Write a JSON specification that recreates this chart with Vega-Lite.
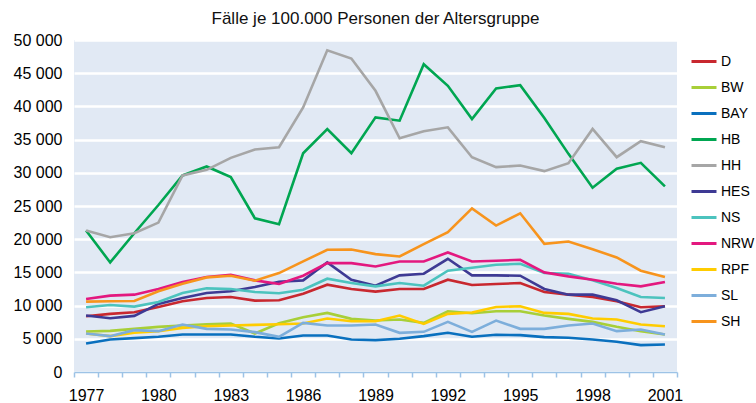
{
"$schema": "https://vega.github.io/schema/vega-lite/v6.json",
"width": 603, "height": 332,
"autosize": {"type": "none"},
"padding": {"left": 74, "top": 40, "right": 79, "bottom": 31},
"background": "white",
"title": {"text": "Fälle je 100.000 Personen der Altersgruppe", "fontSize": 17, "fontWeight": "normal", "font": "Liberation Sans", "color": "#111", "anchor": "middle", "offset": 4},
"config": {"view": {"fill": "#E1E9F4", "stroke": null}, "font": "Liberation Sans"},
"data": {"values": [
{"Jahr":1977,"Land":"D","Wert":8400},{"Jahr":1978,"Land":"D","Wert":8750},{"Jahr":1979,"Land":"D","Wert":9000},{"Jahr":1980,"Land":"D","Wert":9800},{"Jahr":1981,"Land":"D","Wert":10650},{"Jahr":1982,"Land":"D","Wert":11150},{"Jahr":1983,"Land":"D","Wert":11300},{"Jahr":1984,"Land":"D","Wert":10750},{"Jahr":1985,"Land":"D","Wert":10800},{"Jahr":1986,"Land":"D","Wert":11800},{"Jahr":1987,"Land":"D","Wert":13150},{"Jahr":1988,"Land":"D","Wert":12500},{"Jahr":1989,"Land":"D","Wert":12100},{"Jahr":1990,"Land":"D","Wert":12500},{"Jahr":1991,"Land":"D","Wert":12500},{"Jahr":1992,"Land":"D","Wert":13900},{"Jahr":1993,"Land":"D","Wert":13100},{"Jahr":1994,"Land":"D","Wert":13250},{"Jahr":1995,"Land":"D","Wert":13400},{"Jahr":1996,"Land":"D","Wert":12050},{"Jahr":1997,"Land":"D","Wert":11650},{"Jahr":1998,"Land":"D","Wert":11300},{"Jahr":1999,"Land":"D","Wert":10650},{"Jahr":2000,"Land":"D","Wert":9750},{"Jahr":2001,"Land":"D","Wert":9900},
{"Jahr":1977,"Land":"BW","Wert":6100},{"Jahr":1978,"Land":"BW","Wert":6200},{"Jahr":1979,"Land":"BW","Wert":6500},{"Jahr":1980,"Land":"BW","Wert":6800},{"Jahr":1981,"Land":"BW","Wert":7000},{"Jahr":1982,"Land":"BW","Wert":7200},{"Jahr":1983,"Land":"BW","Wert":7300},{"Jahr":1984,"Land":"BW","Wert":5800},{"Jahr":1985,"Land":"BW","Wert":7350},{"Jahr":1986,"Land":"BW","Wert":8250},{"Jahr":1987,"Land":"BW","Wert":8900},{"Jahr":1988,"Land":"BW","Wert":8000},{"Jahr":1989,"Land":"BW","Wert":7750},{"Jahr":1990,"Land":"BW","Wert":7900},{"Jahr":1991,"Land":"BW","Wert":7400},{"Jahr":1992,"Land":"BW","Wert":9150},{"Jahr":1993,"Land":"BW","Wert":8850},{"Jahr":1994,"Land":"BW","Wert":9150},{"Jahr":1995,"Land":"BW","Wert":9150},{"Jahr":1996,"Land":"BW","Wert":8500},{"Jahr":1997,"Land":"BW","Wert":8000},{"Jahr":1998,"Land":"BW","Wert":7550},{"Jahr":1999,"Land":"BW","Wert":6800},{"Jahr":2000,"Land":"BW","Wert":6150},{"Jahr":2001,"Land":"BW","Wert":5650},
{"Jahr":1977,"Land":"BAY","Wert":4300},{"Jahr":1978,"Land":"BAY","Wert":4900},{"Jahr":1979,"Land":"BAY","Wert":5100},{"Jahr":1980,"Land":"BAY","Wert":5300},{"Jahr":1981,"Land":"BAY","Wert":5650},{"Jahr":1982,"Land":"BAY","Wert":5650},{"Jahr":1983,"Land":"BAY","Wert":5650},{"Jahr":1984,"Land":"BAY","Wert":5300},{"Jahr":1985,"Land":"BAY","Wert":5050},{"Jahr":1986,"Land":"BAY","Wert":5500},{"Jahr":1987,"Land":"BAY","Wert":5500},{"Jahr":1988,"Land":"BAY","Wert":4900},{"Jahr":1989,"Land":"BAY","Wert":4800},{"Jahr":1990,"Land":"BAY","Wert":5000},{"Jahr":1991,"Land":"BAY","Wert":5400},{"Jahr":1992,"Land":"BAY","Wert":5900},{"Jahr":1993,"Land":"BAY","Wert":5300},{"Jahr":1994,"Land":"BAY","Wert":5600},{"Jahr":1995,"Land":"BAY","Wert":5550},{"Jahr":1996,"Land":"BAY","Wert":5250},{"Jahr":1997,"Land":"BAY","Wert":5150},{"Jahr":1998,"Land":"BAY","Wert":4900},{"Jahr":1999,"Land":"BAY","Wert":4550},{"Jahr":2000,"Land":"BAY","Wert":4050},{"Jahr":2001,"Land":"BAY","Wert":4150},
{"Jahr":1977,"Land":"HB","Wert":21300},{"Jahr":1978,"Land":"HB","Wert":16500},{"Jahr":1979,"Land":"HB","Wert":20900},{"Jahr":1980,"Land":"HB","Wert":25150},{"Jahr":1981,"Land":"HB","Wert":29600},{"Jahr":1982,"Land":"HB","Wert":30950},{"Jahr":1983,"Land":"HB","Wert":29350},{"Jahr":1984,"Land":"HB","Wert":23150},{"Jahr":1985,"Land":"HB","Wert":22250},{"Jahr":1986,"Land":"HB","Wert":32950},{"Jahr":1987,"Land":"HB","Wert":36600},{"Jahr":1988,"Land":"HB","Wert":32950},{"Jahr":1989,"Land":"HB","Wert":38350},{"Jahr":1990,"Land":"HB","Wert":37850},{"Jahr":1991,"Land":"HB","Wert":46350},{"Jahr":1992,"Land":"HB","Wert":43100},{"Jahr":1993,"Land":"HB","Wert":38100},{"Jahr":1994,"Land":"HB","Wert":42700},{"Jahr":1995,"Land":"HB","Wert":43200},{"Jahr":1996,"Land":"HB","Wert":38250},{"Jahr":1997,"Land":"HB","Wert":32850},{"Jahr":1998,"Land":"HB","Wert":27750},{"Jahr":1999,"Land":"HB","Wert":30600},{"Jahr":2000,"Land":"HB","Wert":31500},{"Jahr":2001,"Land":"HB","Wert":27950},
{"Jahr":1977,"Land":"HH","Wert":21300},{"Jahr":1978,"Land":"HH","Wert":20300},{"Jahr":1979,"Land":"HH","Wert":20900},{"Jahr":1980,"Land":"HH","Wert":22500},{"Jahr":1981,"Land":"HH","Wert":29600},{"Jahr":1982,"Land":"HH","Wert":30450},{"Jahr":1983,"Land":"HH","Wert":32250},{"Jahr":1984,"Land":"HH","Wert":33500},{"Jahr":1985,"Land":"HH","Wert":33850},{"Jahr":1986,"Land":"HH","Wert":39850},{"Jahr":1987,"Land":"HH","Wert":48450},{"Jahr":1988,"Land":"HH","Wert":47200},{"Jahr":1989,"Land":"HH","Wert":42350},{"Jahr":1990,"Land":"HH","Wert":35200},{"Jahr":1991,"Land":"HH","Wert":36250},{"Jahr":1992,"Land":"HH","Wert":36850},{"Jahr":1993,"Land":"HH","Wert":32350},{"Jahr":1994,"Land":"HH","Wert":30850},{"Jahr":1995,"Land":"HH","Wert":31100},{"Jahr":1996,"Land":"HH","Wert":30250},{"Jahr":1997,"Land":"HH","Wert":31450},{"Jahr":1998,"Land":"HH","Wert":36600},{"Jahr":1999,"Land":"HH","Wert":32350},{"Jahr":2000,"Land":"HH","Wert":34750},{"Jahr":2001,"Land":"HH","Wert":33850},
{"Jahr":1977,"Land":"HES","Wert":8500},{"Jahr":1978,"Land":"HES","Wert":8100},{"Jahr":1979,"Land":"HES","Wert":8450},{"Jahr":1980,"Land":"HES","Wert":10250},{"Jahr":1981,"Land":"HES","Wert":11150},{"Jahr":1982,"Land":"HES","Wert":11900},{"Jahr":1983,"Land":"HES","Wert":12150},{"Jahr":1984,"Land":"HES","Wert":12800},{"Jahr":1985,"Land":"HES","Wert":13600},{"Jahr":1986,"Land":"HES","Wert":13800},{"Jahr":1987,"Land":"HES","Wert":16500},{"Jahr":1988,"Land":"HES","Wert":13900},{"Jahr":1989,"Land":"HES","Wert":13000},{"Jahr":1990,"Land":"HES","Wert":14550},{"Jahr":1991,"Land":"HES","Wert":14800},{"Jahr":1992,"Land":"HES","Wert":17050},{"Jahr":1993,"Land":"HES","Wert":14550},{"Jahr":1994,"Land":"HES","Wert":14550},{"Jahr":1995,"Land":"HES","Wert":14500},{"Jahr":1996,"Land":"HES","Wert":12500},{"Jahr":1997,"Land":"HES","Wert":11650},{"Jahr":1998,"Land":"HES","Wert":11650},{"Jahr":1999,"Land":"HES","Wert":10800},{"Jahr":2000,"Land":"HES","Wert":9000},{"Jahr":2001,"Land":"HES","Wert":9900},
{"Jahr":1977,"Land":"NS","Wert":9750},{"Jahr":1978,"Land":"NS","Wert":10100},{"Jahr":1979,"Land":"NS","Wert":9850},{"Jahr":1980,"Land":"NS","Wert":10550},{"Jahr":1981,"Land":"NS","Wert":11900},{"Jahr":1982,"Land":"NS","Wert":12600},{"Jahr":1983,"Land":"NS","Wert":12500},{"Jahr":1984,"Land":"NS","Wert":12050},{"Jahr":1985,"Land":"NS","Wert":11850},{"Jahr":1986,"Land":"NS","Wert":12400},{"Jahr":1987,"Land":"NS","Wert":14050},{"Jahr":1988,"Land":"NS","Wert":13400},{"Jahr":1989,"Land":"NS","Wert":12900},{"Jahr":1990,"Land":"NS","Wert":13400},{"Jahr":1991,"Land":"NS","Wert":13000},{"Jahr":1992,"Land":"NS","Wert":15250},{"Jahr":1993,"Land":"NS","Wert":15700},{"Jahr":1994,"Land":"NS","Wert":16150},{"Jahr":1995,"Land":"NS","Wert":16300},{"Jahr":1996,"Land":"NS","Wert":14900},{"Jahr":1997,"Land":"NS","Wert":14800},{"Jahr":1998,"Land":"NS","Wert":13800},{"Jahr":1999,"Land":"NS","Wert":12650},{"Jahr":2000,"Land":"NS","Wert":11300},{"Jahr":2001,"Land":"NS","Wert":11150},
{"Jahr":1977,"Land":"NRW","Wert":11000},{"Jahr":1978,"Land":"NRW","Wert":11500},{"Jahr":1979,"Land":"NRW","Wert":11650},{"Jahr":1980,"Land":"NRW","Wert":12500},{"Jahr":1981,"Land":"NRW","Wert":13550},{"Jahr":1982,"Land":"NRW","Wert":14300},{"Jahr":1983,"Land":"NRW","Wert":14650},{"Jahr":1984,"Land":"NRW","Wert":13800},{"Jahr":1985,"Land":"NRW","Wert":13250},{"Jahr":1986,"Land":"NRW","Wert":14500},{"Jahr":1987,"Land":"NRW","Wert":16400},{"Jahr":1988,"Land":"NRW","Wert":16400},{"Jahr":1989,"Land":"NRW","Wert":15900},{"Jahr":1990,"Land":"NRW","Wert":16650},{"Jahr":1991,"Land":"NRW","Wert":16650},{"Jahr":1992,"Land":"NRW","Wert":18000},{"Jahr":1993,"Land":"NRW","Wert":16650},{"Jahr":1994,"Land":"NRW","Wert":16750},{"Jahr":1995,"Land":"NRW","Wert":16900},{"Jahr":1996,"Land":"NRW","Wert":15000},{"Jahr":1997,"Land":"NRW","Wert":14400},{"Jahr":1998,"Land":"NRW","Wert":13900},{"Jahr":1999,"Land":"NRW","Wert":13300},{"Jahr":2000,"Land":"NRW","Wert":12900},{"Jahr":2001,"Land":"NRW","Wert":13550},
{"Jahr":1977,"Land":"RPF","Wert":5800},{"Jahr":1978,"Land":"RPF","Wert":5400},{"Jahr":1979,"Land":"RPF","Wert":5900},{"Jahr":1980,"Land":"RPF","Wert":6150},{"Jahr":1981,"Land":"RPF","Wert":6650},{"Jahr":1982,"Land":"RPF","Wert":6900},{"Jahr":1983,"Land":"RPF","Wert":7000},{"Jahr":1984,"Land":"RPF","Wert":7100},{"Jahr":1985,"Land":"RPF","Wert":7200},{"Jahr":1986,"Land":"RPF","Wert":7300},{"Jahr":1987,"Land":"RPF","Wert":8050},{"Jahr":1988,"Land":"RPF","Wert":7650},{"Jahr":1989,"Land":"RPF","Wert":7650},{"Jahr":1990,"Land":"RPF","Wert":8500},{"Jahr":1991,"Land":"RPF","Wert":7250},{"Jahr":1992,"Land":"RPF","Wert":8750},{"Jahr":1993,"Land":"RPF","Wert":8950},{"Jahr":1994,"Land":"RPF","Wert":9800},{"Jahr":1995,"Land":"RPF","Wert":9900},{"Jahr":1996,"Land":"RPF","Wert":8900},{"Jahr":1997,"Land":"RPF","Wert":8750},{"Jahr":1998,"Land":"RPF","Wert":8050},{"Jahr":1999,"Land":"RPF","Wert":7900},{"Jahr":2000,"Land":"RPF","Wert":7150},{"Jahr":2001,"Land":"RPF","Wert":6900},
{"Jahr":1977,"Land":"SL","Wert":5800},{"Jahr":1978,"Land":"SL","Wert":5400},{"Jahr":1979,"Land":"SL","Wert":6300},{"Jahr":1980,"Land":"SL","Wert":6150},{"Jahr":1981,"Land":"SL","Wert":7150},{"Jahr":1982,"Land":"SL","Wert":6500},{"Jahr":1983,"Land":"SL","Wert":6400},{"Jahr":1984,"Land":"SL","Wert":6000},{"Jahr":1985,"Land":"SL","Wert":5300},{"Jahr":1986,"Land":"SL","Wert":7400},{"Jahr":1987,"Land":"SL","Wert":7000},{"Jahr":1988,"Land":"SL","Wert":7000},{"Jahr":1989,"Land":"SL","Wert":7150},{"Jahr":1990,"Land":"SL","Wert":5900},{"Jahr":1991,"Land":"SL","Wert":6050},{"Jahr":1992,"Land":"SL","Wert":7550},{"Jahr":1993,"Land":"SL","Wert":6050},{"Jahr":1994,"Land":"SL","Wert":7750},{"Jahr":1995,"Land":"SL","Wert":6500},{"Jahr":1996,"Land":"SL","Wert":6500},{"Jahr":1997,"Land":"SL","Wert":7000},{"Jahr":1998,"Land":"SL","Wert":7300},{"Jahr":1999,"Land":"SL","Wert":6150},{"Jahr":2000,"Land":"SL","Wert":6400},{"Jahr":2001,"Land":"SL","Wert":5650},
{"Jahr":1977,"Land":"SH","Wert":10600},{"Jahr":1978,"Land":"SH","Wert":10650},{"Jahr":1979,"Land":"SH","Wert":10700},{"Jahr":1980,"Land":"SH","Wert":12150},{"Jahr":1981,"Land":"SH","Wert":13300},{"Jahr":1982,"Land":"SH","Wert":14250},{"Jahr":1983,"Land":"SH","Wert":14500},{"Jahr":1984,"Land":"SH","Wert":13750},{"Jahr":1985,"Land":"SH","Wert":14900},{"Jahr":1986,"Land":"SH","Wert":16650},{"Jahr":1987,"Land":"SH","Wert":18400},{"Jahr":1988,"Land":"SH","Wert":18450},{"Jahr":1989,"Land":"SH","Wert":17750},{"Jahr":1990,"Land":"SH","Wert":17400},{"Jahr":1991,"Land":"SH","Wert":19250},{"Jahr":1992,"Land":"SH","Wert":21050},{"Jahr":1993,"Land":"SH","Wert":24650},{"Jahr":1994,"Land":"SH","Wert":22050},{"Jahr":1995,"Land":"SH","Wert":23900},{"Jahr":1996,"Land":"SH","Wert":19300},{"Jahr":1997,"Land":"SH","Wert":19650},{"Jahr":1998,"Land":"SH","Wert":18500},{"Jahr":1999,"Land":"SH","Wert":17250},{"Jahr":2000,"Land":"SH","Wert":15250},{"Jahr":2001,"Land":"SH","Wert":14300}
]},
"mark": {"type": "line", "strokeWidth": 2.6, "strokeJoin": "miter"},
"encoding": {
"x": {"field": "Jahr", "type": "ordinal", "bandPosition": 0.5,
 "scale": {"type": "band", "paddingInner": 0, "paddingOuter": 0},
 "axis": {"title": null, "labelAngle": 0, "tickBand": "extent", "grid": false,
  "labelExpr": "(datum.value - 1977) % 3 == 0 ? datum.label : ''",
  "domainColor": "#9DC3E6", "domainWidth": 1.5, "tickColor": "#9DC3E6", "tickWidth": 1.5, "tickSize": 5,
  "labelFontSize": 16, "labelColor": "#000", "labelPadding": 10, "labelFont": "Liberation Sans"}},
"y": {"field": "Wert", "type": "quantitative",
 "scale": {"domain": [0, 50000], "nice": false},
 "axis": {"title": null, "values": [0,5000,10000,15000,20000,25000,30000,35000,40000,45000,50000],
  "labelExpr": "replace(format(datum.value, ','), ',', ' ')",
  "domain": false, "ticks": false, "grid": true, "gridColor": "white", "gridWidth": 2.5,
  "labelFontSize": 16, "labelColor": "#000", "labelPadding": 12, "labelFont": "Liberation Sans"}},
"color": {"field": "Land", "type": "nominal",
 "scale": {"domain": ["D","BW","BAY","HB","HH","HES","NS","NRW","RPF","SL","SH"],
  "range": ["#C8282F","#A8CF38","#0A70BE","#00A651","#A6A6A6","#3E3A94","#4CC3BE","#E3187F","#FFCC00","#7DAEDB","#F7941D"]},
 "legend": {"title": null, "orient": "none", "legendX": 616, "legendY": 7.5,
  "symbolType": "stroke", "symbolSize": 625, "symbolStrokeWidth": 3,
  "labelFontSize": 14, "labelColor": "#000", "labelOffset": 3, "rowPadding": 5, "padding": 0, "labelFont": "Liberation Sans"}}
}
}
